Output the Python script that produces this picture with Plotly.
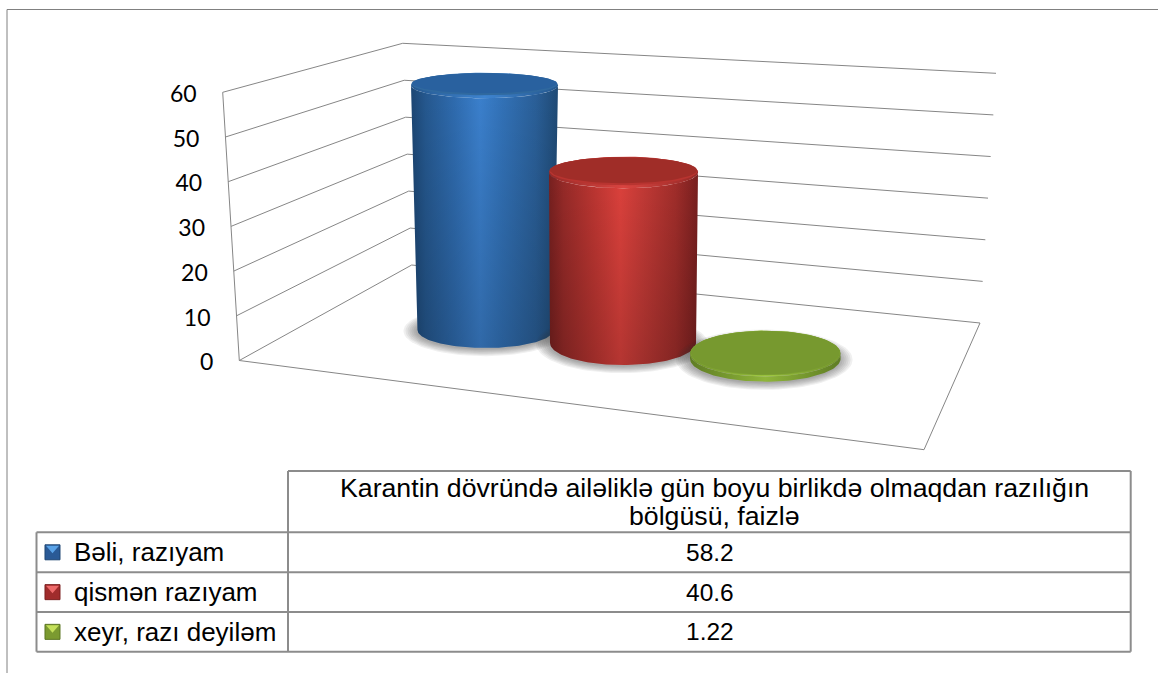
import numpy as np
import plotly.graph_objects as go

# ---- data ----
categories = ["Bəli, razıyam", "qismən razıyam", "xeyr, razı deyiləm"]
values = [58.2, 40.6, 1.22]
value_labels = ["58.2", "40.6", "1.22"]
ticks = [0, 10, 20, 30, 40, 50, 60]
header_lines = ["Karantin dövründə ailəliklə gün boyu birlikdə olmaqdan razılığın", "bölgüsü, faizlə"]

# ---- layout geometry (pixel-based scale of the hidden axes) ----
W, H = 1158, 673
Y0, PX = 360.5, (360.5 - 92.3) / 60        # value 0 pixel, pixels per unit on wall edge
def vy(px): return (Y0 - np.asarray(px, float)) / PX
GRID = "#868686"
fig = go.Figure()

def line(xs, ys, color=GRID, width=1):
    fig.add_trace(go.Scatter(x=xs, y=ys, mode="lines", line=dict(color=color, width=width),
                             hoverinfo="skip", showlegend=False))

fl = lambda v: (239.3 + (222.7 - 239.3) * v / 60, v)
bl = lambda v: (411.7 + (402.7 - 411.7) * v / 60, vy(265) + (vy(43.3) - vy(265)) * v / 60)
br = lambda v: (980 + (996 - 980) * v / 60, vy(323) + (vy(73.3) - vy(323)) * v / 60)

for v in ticks:
    a, b, c = fl(v), bl(v), br(v)
    line([a[0], b[0], c[0]], [a[1], b[1], c[1]])
line([fl(0)[0], fl(60)[0]], [fl(0)[1], fl(60)[1]])
line([239.3, 924, 980], [0, vy(449.7), vy(323)])

# value tick labels following the slanted wall edge
fig.add_trace(go.Scatter(x=[fl(v)[0] - 26 for v in ticks], y=[v - 0.9 for v in ticks],
                         text=[str(t) for t in ticks], mode="text", textposition="middle left",
                         textfont=dict(family="Lato", size=23, color="#000000"),
                         hoverinfo="skip", showlegend=False))

# ---- cylinders ----
styles = [
    dict(cx_top=484.5, rx_top=73.5, ry_top=12.8, cx_bot=485.5, rx_bot=68, ry_bot=18, base_px=330,
         side=[[0, "#1c4673"], [0.1, "#25588f"], [0.3, "#2f6cb0"], [0.47, "#3b80cd"], [0.62, "#3272b8"], [0.85, "#2a5f98"], [1, "#1f4a75"]],
         top="#29619f", mid="#30699f", rim=[[0, "#25588f"], [0.5, "#3e84d0"], [1, "#25588f"]], inset=(2.2, 2.8)),
    dict(cx_top=623.5, rx_top=74.5, ry_top=15.8, cx_bot=623, rx_bot=73, ry_bot=22, base_px=343,
         side=[[0, "#76201f"], [0.1, "#962a28"], [0.3, "#bb3531"], [0.48, "#dc413c"], [0.62, "#c43a36"], [0.85, "#a02d2a"], [1, "#781f1f"]],
         top="#a02d28", mid="#b83430", rim=[[0, "#962a28"], [0.5, "#d94440"], [1, "#962a28"]], inset=(2.2, 2.8)),
    dict(cx_top=765.3, rx_top=75.3, ry_top=23, cx_bot=765.3, rx_bot=75.3, ry_bot=23, base_px=358.7,
         side=[[0, "#5f7d24"], [0.5, "#8fb53a"], [1, "#5f7d24"]],
         top="#77992f", mid="#7fa333", rim=[[0, "#6d8d2a"], [0.5, "#a3cc44"], [1, "#6d8d2a"]], inset=(0.8, 1.2)),
]
K = 0.94  # foreshortening of the bars relative to the wall edge

def ell(cx, cy_px, rx, ry, t0=0, t1=2 * np.pi, n=90):
    t = np.linspace(t0, t1, n)
    return cx + rx * np.cos(t), vy(cy_px + ry * np.sin(t))

def fill(xs, ys, grad=None, color=None):
    kw = dict(fillgradient=grad) if grad else dict(fillcolor=color)
    fig.add_trace(go.Scatter(x=xs, y=ys, mode="lines", fill="toself", line=dict(width=0),
                             hoverinfo="skip", showlegend=False, **kw))

for val, s in zip(values, styles):
    base = s["base_px"]
    top_px = base - val * K * PX
    rb, rt = s["ry_bot"], s["ry_top"]
    # soft shadow around the foot
    for d in range(13, 0, -2):
        xs, ys = ell(s["cx_bot"] - 1, base + 1, s["rx_bot"] + d, rb + d * 0.55)
        fill(xs, ys, color="rgba(60,60,60,0.075)")
    # body
    xb, yb = ell(s["cx_bot"], base, s["rx_bot"], rb, np.pi, 0)
    xt, yt = ell(s["cx_top"], top_px, s["rx_top"], rt, 0, np.pi)
    xs, ys = np.r_[xb, xt], np.r_[yb, yt]
    fill(xs, ys, grad=dict(type="horizontal", colorscale=s["side"]))
    if val > 5:
        fill(xs, ys, grad=dict(type="vertical", colorscale=[[0, "rgba(0,0,0,0.18)"], [1, "rgba(0,0,0,0)"]]))
    # cap with bevelled rim, softened by an intermediate ellipse
    xs, ys = ell(s["cx_top"], top_px, s["rx_top"], rt)
    fill(xs, ys, grad=dict(type="horizontal", colorscale=s["rim"]))
    dy, dr = s["inset"]
    xs, ys = ell(s["cx_top"], top_px - dy * 0.6, s["rx_top"] - 0.5, rt - dr * 0.6)
    fill(xs, ys, color=s["mid"])
    xs, ys = ell(s["cx_top"], top_px - dy, s["rx_top"] - 1, rt - dr)
    fill(xs, ys, color=s["top"])

# ---- data table below the chart ----
TL, TC, TR = 36.5, 288, 1130.7
TT, R1, R2, R3, TB = 471, 532.3, 572.3, 612, 651.7
px = lambda x: x / W
py = lambda y: 1 - y / H
shapes = []
def seg(x0, y0, x1, y1, width=2, color="#8c8c8c"):
    shapes.append(dict(type="line", xref="paper", yref="paper", x0=px(x0), y0=py(y0), x1=px(x1), y1=py(y1),
                       line=dict(color=color, width=width), layer="below"))
seg(TC, TT, TR, TT); seg(TR, TT, TR, TB); seg(TC, TT, TC, TB)
for y in (R1, R2, R3, TB):
    seg(TL, y, TR, y)
seg(TL, R1, TL, TB)
# outer frame of the slide picture
seg(7, 9.5, W, 9.5, 1, "#808080"); seg(7, 9.5, 7, H, 1, "#808080")

def path(pts):
    return "M" + " L".join(f"{px(x):.5f},{py(y):.5f}" for x, y in pts) + " Z"

keycols = [("#2a5a96", "#5aa3e8", "#1f4674"), ("#a02c2c", "#ee6b6b", "#7c1f1f"), ("#7b9a30", "#c4e05a", "#5b7522")]
annos = []
FAM = "Liberation Sans, Arial"
catfont = dict(family=FAM, size=26, color="#000000")
valfont = dict(family=FAM, size=24.5, color="#000000")
headfont = dict(family=FAM, size=26.7, color="#000000")
for (cat, lab, (cy, (main, hi, lo))) in zip(categories, value_labels,
                                            zip([(R1 + R2) / 2, (R2 + R3) / 2, (R3 + TB) / 2], keycols)):
    x0, x1 = 45, 60
    y0, y1 = cy - 7.5, cy + 7.5
    shapes.append(dict(type="path", xref="paper", yref="paper", path=path([(x0, y0), (x1, y0), (x1, y1), (x0, y1)]),
                       fillcolor=main, line=dict(width=1, color=lo)))
    shapes.append(dict(type="path", xref="paper", yref="paper", path=path([(x0 + 1, y0 + 1), (x1 - 1, y0 + 1), ((x0 + x1) / 2, cy + 1)]),
                       fillcolor=hi, line=dict(width=0)))
    annos.append(dict(xref="paper", yref="paper", x=px(71.5), y=py(cy), xanchor="left", yanchor="middle",
                      text=cat, showarrow=False, font=catfont))
    annos.append(dict(xref="paper", yref="paper", x=px((TC + TR) / 2 + 1), y=py(cy), xanchor="center", yanchor="middle",
                      text=lab, showarrow=False, font=valfont))
for txt, y in zip(header_lines, (488, 516)):
    annos.append(dict(xref="paper", yref="paper", x=px(714), y=py(y), xanchor="center", yanchor="middle",
                      text=txt, showarrow=False, font=headfont))

fig.update_layout(
    width=W, height=H, margin=dict(l=0, r=0, t=0, b=0),
    paper_bgcolor="#ffffff", plot_bgcolor="#ffffff", showlegend=False, hovermode=False,
    xaxis=dict(range=[0, W], visible=False, fixedrange=True),
    yaxis=dict(range=[vy(H), vy(0)], visible=False, fixedrange=True),
    shapes=shapes, annotations=annos,
)
fig.write_html("out.html", post_script="document.body.style.margin='0';document.body.style.overflow='hidden';",
               config=dict(displayModeBar=False))
